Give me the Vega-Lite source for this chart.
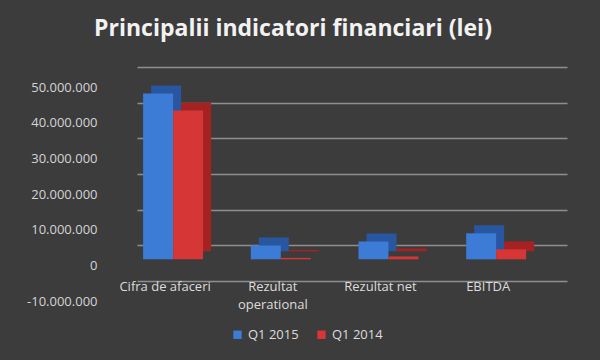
{
  "$schema": "https://vega.github.io/schema/vega-lite/v6.json",
  "autosize": {"type": "none"},
  "width": 430,
  "height": 214,
  "padding": {"left": 137, "top": 67, "right": 33, "bottom": 79},
  "background": "#3c3c3c",
  "title": {
    "text": "Principalii indicatori financiari (lei)",
    "font": "Open Sans",
    "fontSize": 23,
    "fontWeight": "bold",
    "color": "#f2f2f2",
    "anchor": "middle",
    "dx": -59,
    "offset": 26
  },
  "data": {
    "values": [
      {"indicator": "Cifra de afaceri", "perioada": "Q1 2015", "valoare": 46500000},
      {"indicator": "Cifra de afaceri", "perioada": "Q1 2014", "valoare": 41700000},
      {"indicator": "Rezultat operational", "perioada": "Q1 2015", "valoare": 3900000},
      {"indicator": "Rezultat operational", "perioada": "Q1 2014", "valoare": 400000},
      {"indicator": "Rezultat net", "perioada": "Q1 2015", "valoare": 5000000},
      {"indicator": "Rezultat net", "perioada": "Q1 2014", "valoare": 800000},
      {"indicator": "EBITDA", "perioada": "Q1 2015", "valoare": 7300000},
      {"indicator": "EBITDA", "perioada": "Q1 2014", "valoare": 2800000}
    ]
  },
  "encoding": {
    "x": {
      "field": "indicator",
      "type": "nominal",
      "sort": ["Cifra de afaceri", "Rezultat operational", "Rezultat net", "EBITDA"],
      "title": null,
      "scale": {"paddingInner": 0.443, "paddingOuter": 0.218, "align": 0.13},
      "axis": {
        "labelAngle": 0,
        "domain": false,
        "ticks": false,
        "offset": -1,
        "labelPadding": 0,
        "labelOffset": -8,
        "labelFont": "Open Sans",
        "labelFontSize": 13,
        "labelLineHeight": 18,
        "labelColor": "#dcdcdc",
        "labelExpr": "datum.label == 'Rezultat operational' ? ['Rezultat', 'operational'] : datum.label"
      }
    },
    "y": {
      "field": "valoare",
      "type": "quantitative",
      "title": null,
      "scale": {"domain": [-10000000, 50000000], "nice": false},
      "axis": {
        "values": [-10000000, 0, 10000000, 20000000, 30000000, 40000000, 50000000],
        "labelExpr": "replace(replace(format(datum.value, ','), /,/g, '.'), /−/g, '-')",
        "domain": false,
        "ticks": false,
        "labelPadding": 40,
        "labelOffset": 20,
        "labelFont": "Open Sans",
        "labelFontSize": 13,
        "labelColor": "#d4d4d4",
        "gridColor": "#8e8e8e",
        "gridWidth": 1.5
      }
    }
  },
  "layer": [
    {
      "mark": {"type": "bar", "yOffset": 6},
      "encoding": {
        "xOffset": {
          "field": "perioada",
          "type": "nominal",
          "sort": ["Q1 2015", "Q1 2014"],
          "scale": {"range": [8, 68]}
        },
        "color": {
          "field": "perioada",
          "type": "nominal",
          "sort": ["Q1 2015", "Q1 2014"],
          "scale": {"domain": ["Q1 2015", "Q1 2014"], "range": ["#2856a0", "#a52222"]},
          "legend": null
        }
      }
    },
    {
      "mark": {"type": "bar", "yOffset": 14},
      "encoding": {
        "xOffset": {"field": "perioada", "type": "nominal", "sort": ["Q1 2015", "Q1 2014"]},
        "color": {
          "field": "perioada",
          "type": "nominal",
          "sort": ["Q1 2015", "Q1 2014"],
          "scale": {"domain": ["Q1 2015", "Q1 2014"], "range": ["#3c7bd6", "#d63636"]},
          "legend": {
            "title": null,
            "orient": "none",
            "direction": "horizontal",
            "legendX": 94,
            "legendY": 261,
            "symbolType": "square",
            "symbolSize": 70,
            "symbolStrokeWidth": 0,
            "labelFont": "Open Sans",
            "labelFontSize": 13,
            "labelColor": "#dcdcdc",
            "columnPadding": 16
          }
        }
      }
    }
  ],
  "resolve": {"scale": {"color": "independent", "xOffset": "independent"}},
  "config": {
    "view": {"stroke": null}
  }
}
